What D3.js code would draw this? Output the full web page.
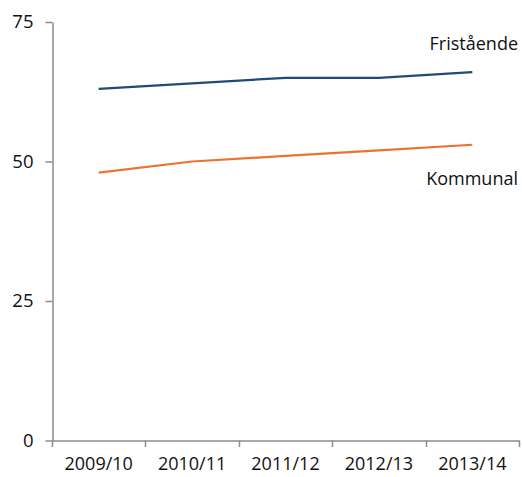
<!DOCTYPE html>
<html>
<head>
<meta charset="utf-8">
<script src="https://cdn.jsdelivr.net/npm/d3@7"></script>
<style>
  body { margin: 0; background: #fff; }
  text { font-family: "Open Sans", sans-serif; fill: #111; }
</style>
</head>
<body>
<script>
var years = ["2009/10", "2010/11", "2011/12", "2012/13", "2013/14"];
var fristaende = [63, 64, 65, 65, 66];
var kommunal = [48, 50, 51, 52, 53];
var yTicks = [0, 25, 50, 75];

var width = 522, height = 477;

var svg = d3.select("body").append("svg")
  .attr("width", width)
  .attr("height", height);

var x = d3.scaleBand()
  .domain(years)
  .range([52, 519]);

var y = d3.scaleLinear()
  .domain([0, 75])
  .range([440.5, 22]);

//y axis
var yAxis = svg.append("g")
  .attr("transform", "translate(52.5,0)")
  .call(d3.axisLeft(y).tickValues(yTicks).tickSize(7).tickPadding(12).tickSizeOuter(0));
yAxis.select(".domain").attr("stroke", "#8c8c8c").attr("stroke-width", 1.5);
yAxis.selectAll(".tick line").attr("stroke", "#8c8c8c").attr("stroke-width", 1.5);
yAxis.selectAll(".tick text")
  .attr("font-size", "18.5px")
  .attr("fill", "#111")
  .attr("font-family", "Open Sans, sans-serif");

//x axis
var xAxis = svg.append("g")
  .attr("transform", "translate(0,440.5)")
  .call(d3.axisBottom(x).tickSize(0).tickPadding(17).tickSizeOuter(0));
xAxis.select(".domain").attr("stroke", "#8c8c8c").attr("stroke-width", 1.5);
xAxis.selectAll(".tick text")
  .attr("font-size", "18px")
  .attr("fill", "#111")
  .attr("font-family", "Open Sans, sans-serif");

// band boundary ticks
var bounds = years.map(function (d) { return x(d); }).concat([x.range()[1]]);
svg.append("g")
  .selectAll("line")
  .data(bounds)
  .join("line")
  .attr("x1", function (d) { return Math.round(d) + 0.5; })
  .attr("x2", function (d) { return Math.round(d) + 0.5; })
  .attr("y1", 440.5)
  .attr("y2", 447)
  .attr("stroke", "#8c8c8c")
  .attr("stroke-width", 1.5);

//lines
var line = d3.line()
  .x(function (d, i) { return x(years[i]) + x.bandwidth() / 2; })
  .y(function (d) { return y(d); });

svg.append("path")
  .datum(fristaende)
  .attr("d", line)
  .attr("fill", "none")
  .attr("stroke", "#1f4a7c")
  .attr("stroke-width", 2.2);

svg.append("path")
  .datum(kommunal)
  .attr("d", line)
  .attr("fill", "none")
  .attr("stroke", "#ec7230")
  .attr("stroke-width", 2.2);

//series labels
svg.append("text")
  .attr("x", 518)
  .attr("y", 50)
  .attr("text-anchor", "end")
  .attr("font-size", "18px")
  .text("Fristående");

svg.append("text")
  .attr("x", 518)
  .attr("y", 185)
  .attr("text-anchor", "end")
  .attr("font-size", "18px")
  .text("Kommunal");
</script>
</body>
</html>
